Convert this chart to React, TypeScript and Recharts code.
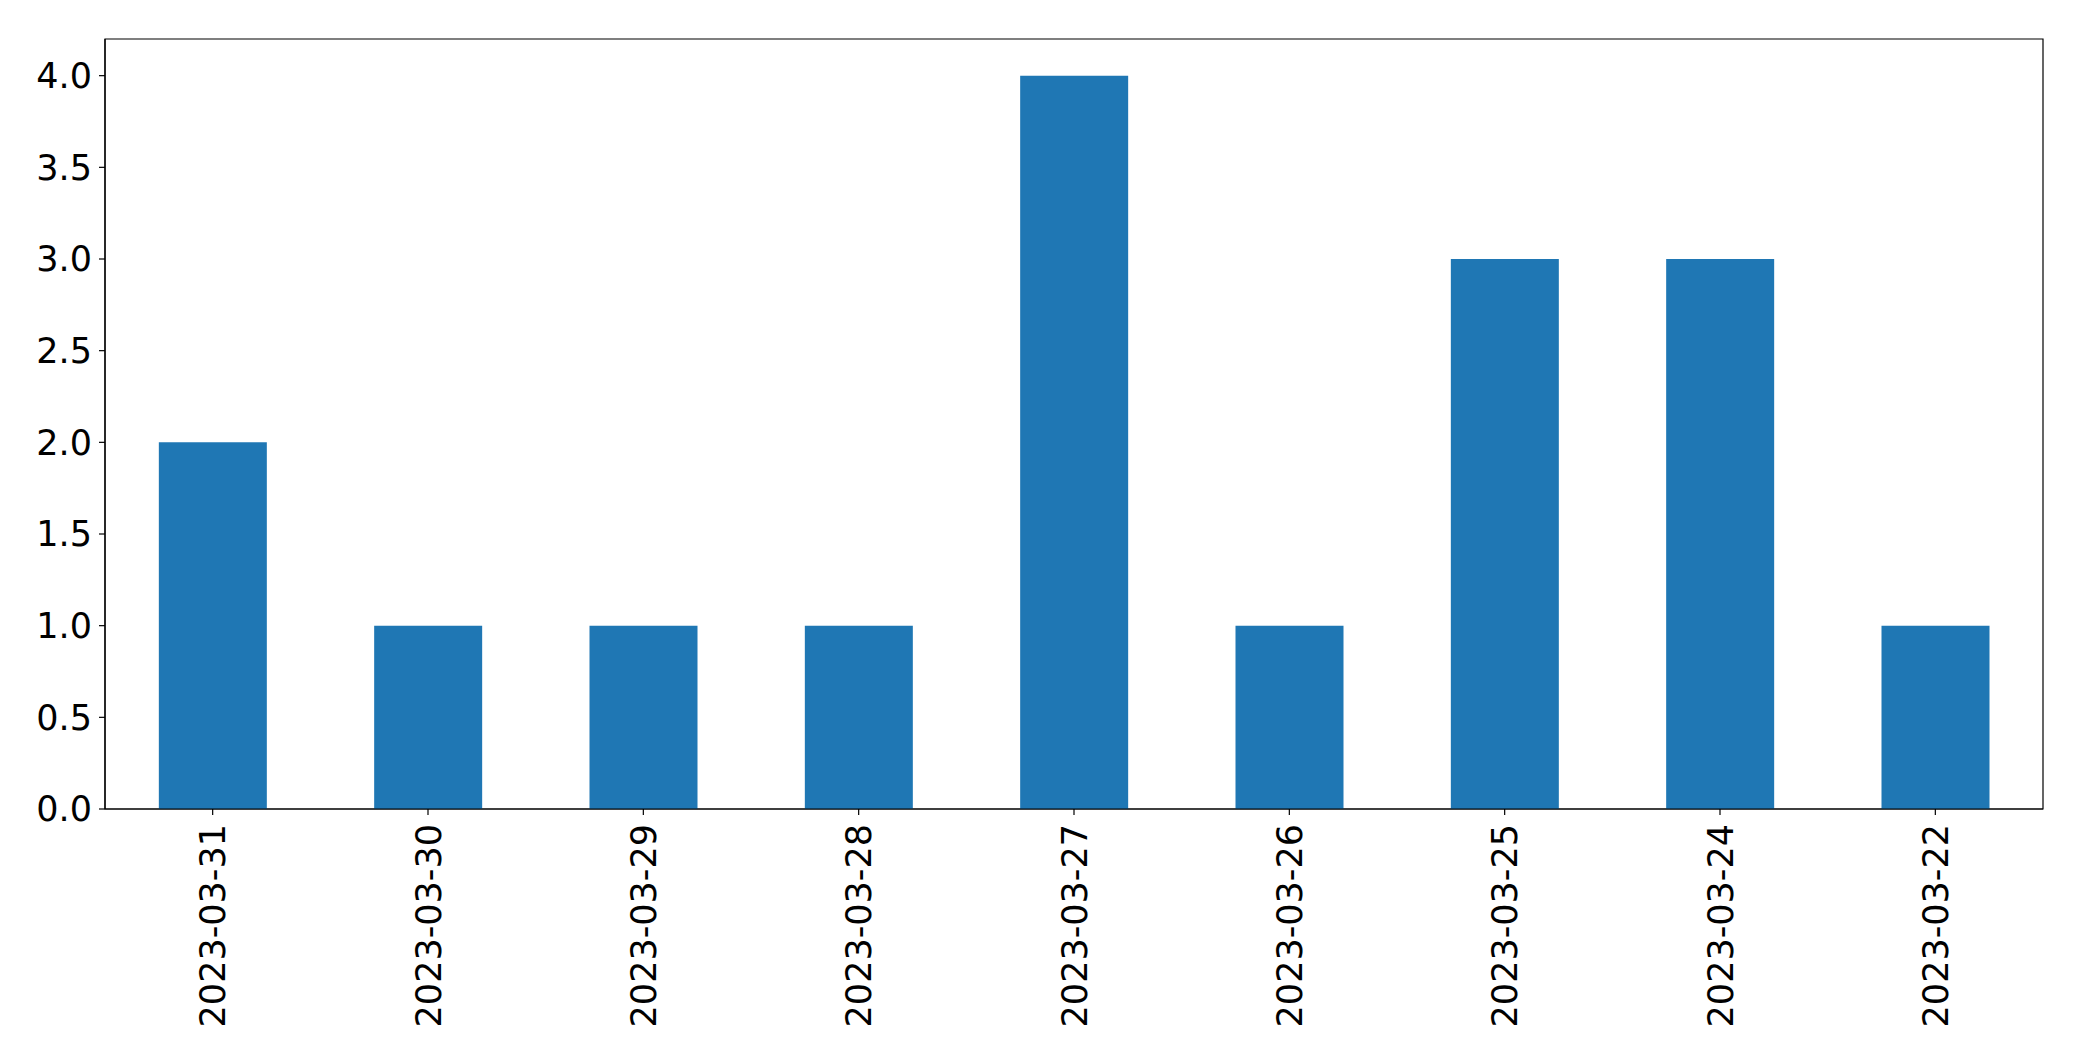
import { BarChart, Bar, XAxis, YAxis, ReferenceArea } from 'recharts'

const dates = [
  '2023-03-31', '2023-03-30', '2023-03-29', '2023-03-28', '2023-03-27',
  '2023-03-26', '2023-03-25', '2023-03-24', '2023-03-22',
]
const counts = [2, 1, 1, 1, 4, 1, 3, 3, 1]
const yTicks = [0, 0.5, 1, 1.5, 2, 2.5, 3, 3.5, 4]

const data = dates.map((d, i) => ({ date: d, count: counts[i] }))

const FONT = '"DejaVu Sans", sans-serif'

function DateTick(props: any) {
  const { x, y, payload } = props
  return (
    <g transform={`translate(${x},${y})`}>
      <text
        transform="rotate(-90)"
        textAnchor="end"
        dy="0.36em"
        fontSize={35}
        fontFamily={FONT}
        fill="#000"
      >
        {payload.value}
      </text>
    </g>
  )
}

export default function App() {
  return (
    <div style={{ position: 'absolute', left: 0, top: 0, width: 2082, height: 1061, background: '#fff' }}>
      <BarChart
        width={2082}
        height={1061}
        data={data}
        margin={{ top: 39, right: 39, left: 0, bottom: 0 }}
        barCategoryGap="25%"
      >
        <XAxis
          dataKey="date"
          height={252}
          interval={0}
          tick={<DateTick />}
          tickSize={6}
          tickMargin={9}
          axisLine={{ stroke: '#000', strokeWidth: 1.2 }}
          tickLine={{ stroke: '#000', strokeWidth: 1.2 }}
        />
        <YAxis
          width={105}
          domain={[0, 4.2]}
          ticks={yTicks}
          tickFormatter={(v) => v.toFixed(1)}
          tick={{ fontSize: 35, fontFamily: FONT, fill: '#000' }}
          tickSize={6}
          tickMargin={7}
          axisLine={{ stroke: '#000', strokeWidth: 1.2 }}
          tickLine={{ stroke: '#000', strokeWidth: 1.2 }}
        />
        <Bar dataKey="count" fill="#1f77b4" isAnimationActive={false} />
        <ReferenceArea y1={0} y2={4.2} fill="none" stroke="#000" strokeWidth={1.2} ifOverflow="visible" />
      </BarChart>
    </div>
  )
}
